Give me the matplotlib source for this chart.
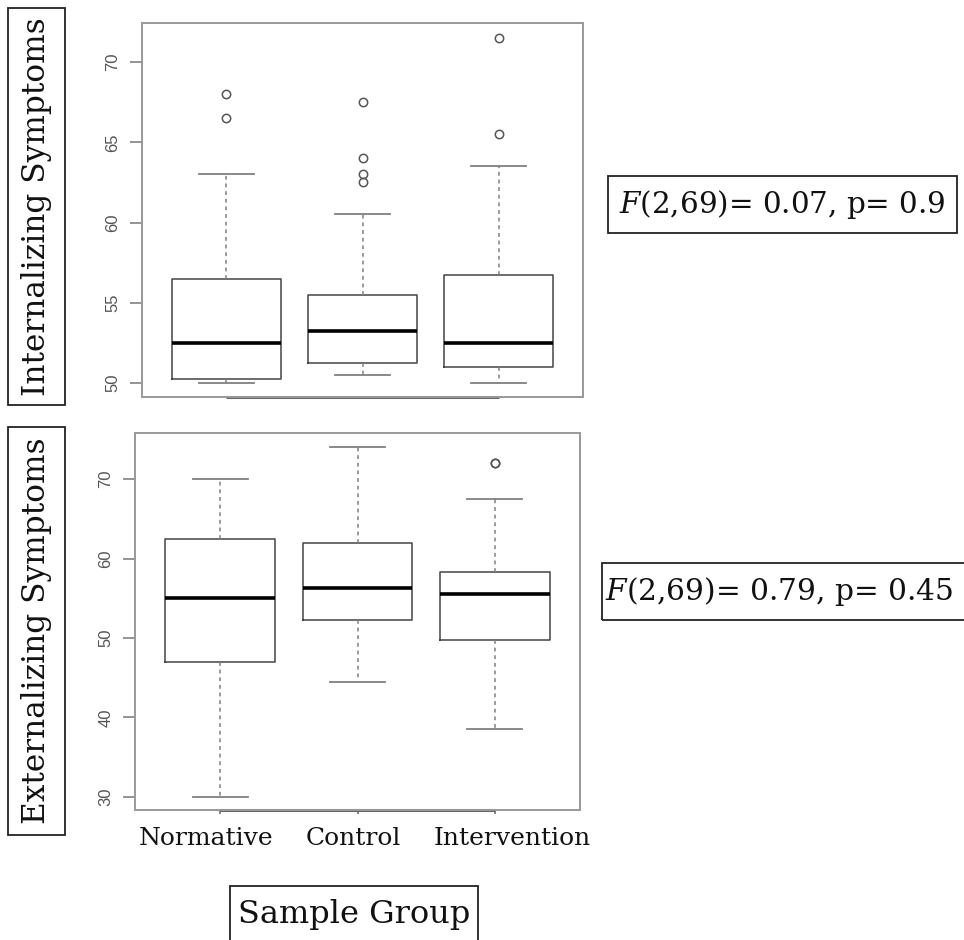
import matplotlib
matplotlib.use("Agg")
from matplotlib import pyplot as plt
from matplotlib.patches import Rectangle
from matplotlib.transforms import ScaledTranslation

groups = ["Normative", "Control", "Intervention"]

# internalizing symptoms: five-number summaries + outliers
int_whislo = [50.0, 50.5, 50.0]
int_q1 = [50.25, 51.25, 51.0]
int_med = [52.5, 53.25, 52.5]
int_q3 = [56.5, 55.5, 56.75]
int_whishi = [63.0, 60.5, 63.5]
int_fliers = [[68.0, 66.5], [67.5, 64.0, 63.0, 62.5], [71.5, 65.5]]

# externalizing symptoms
ext_whislo = [30.0, 44.5, 38.5]
ext_q1 = [47.0, 52.25, 49.75]
ext_med = [55.0, 56.25, 55.5]
ext_q3 = [62.5, 62.0, 58.25]
ext_whishi = [70.0, 74.0, 67.5]
ext_fliers = [[], [], [72.0, 72.0]]

int_yticks = [50, 55, 60, 65, 70]
ext_yticks = [30, 40, 50, 60, 70]

stat_int = r"$\mathit{F}$(2,69)= 0.07, p= 0.9"
stat_ext = r"$\mathit{F}$(2,69)= 0.79, p= 0.45"

W, H = 964, 940
plt.rcParams['mathtext.fontset'] = 'dejavuserif'
fig = plt.figure(figsize=(W / 100, H / 100), dpi=100)


def px_rect(x0, y0, x1, y1):
    # pixel box (top-left origin) -> figure fraction [l, b, w, h]
    return [x0 / W, 1 - y1 / H, (x1 - x0) / W, (y1 - y0) / H]


def make_stats(lo, q1, med, q3, hi, fl):
    return [dict(whislo=a, q1=b, med=c, q3=d, whishi=e, fliers=f, label=g)
            for a, b, c, d, e, f, g in zip(lo, q1, med, q3, hi, fl, groups)]


def draw_panel(ax, stats, ylim, yticks, show_xlabels):
    ax.bxp(stats, positions=[1, 2, 3], widths=0.8, showfliers=True,
           boxprops=dict(color="#444444", lw=1.1),
           medianprops=dict(color="black", lw=2.6),
           whiskerprops=dict(color="#808080", lw=1.1, ls=(0, (2.5, 2.5))),
           capprops=dict(color="#808080", lw=1.3),
           flierprops=dict(marker="o", markerfacecolor="none",
                           markeredgecolor="#555555", markersize=6, mew=1.1))
    ax.set_xlim(0.38, 3.62)
    ax.set_ylim(*ylim)
    for s in ax.spines.values():
        s.set_color("#999999")
        s.set_linewidth(1.4)
    ax.set_yticks(yticks)
    ax.set_yticklabels([str(t) for t in yticks], rotation=90, va="center",
                       fontsize=12, color="#555555", family="Liberation Sans")
    ax.tick_params(axis="y", length=8.5, color="#777777", width=1.1, pad=7)
    ax.set_xticks([1, 2, 3])
    if show_xlabels:
        ax.set_xticklabels(groups, fontsize=18, family="DejaVu Serif", color="#111111")
        ax.tick_params(axis="x", length=3, color="#666666", width=1.1, pad=9)
        # labels in the source sit slightly off their ticks
        for lab, dx in zip(ax.get_xticklabels(), [-14, -4, 17]):
            lab.set_transform(lab.get_transform() + ScaledTranslation(dx / 100, 0, fig.dpi_scale_trans))
    else:
        ax.set_xticklabels([])
        ax.tick_params(axis="x", length=0)
    # R style axis line along the bottom between the outer ticks
    ax.plot([1, 3], [ylim[0], ylim[0]], color="#666666", lw=2.2,
            clip_on=False, solid_capstyle="butt")


ax1 = fig.add_axes(px_rect(142, 23, 583, 397))
draw_panel(ax1, make_stats(int_whislo, int_q1, int_med, int_q3, int_whishi, int_fliers),
           (49.13, 72.43), int_yticks, False)

ax2 = fig.add_axes(px_rect(135, 433, 580, 810))
draw_panel(ax2, make_stats(ext_whislo, ext_q1, ext_med, ext_q3, ext_whishi, ext_fliers),
           (28.36, 75.8), ext_yticks, True)


def boxed_text(x0, y0, x1, y1, text, size, rotation=0, ha="center", tx=None, ty=None):
    r = Rectangle((x0 / W, 1 - y1 / H), (x1 - x0) / W, (y1 - y0) / H,
                  transform=fig.transFigure, fill=False, ec="#222222", lw=1.3)
    fig.add_artist(r)
    cx = (x0 + x1) / 2 if tx is None else tx
    cy = (y0 + y1) / 2 if ty is None else ty
    fig.text(cx / W, 1 - cy / H, text, ha=ha, va="center", rotation=rotation,
             fontsize=size, family="DejaVu Serif", color="#111111")


boxed_text(8, 8, 65, 405, "Internalizing Symptoms", 22.5, rotation=90, tx=37)
boxed_text(8, 427, 65, 835, "Externalizing Symptoms", 22.5, rotation=90, tx=37)
boxed_text(608, 176, 957, 233, stat_int, 21.2)
boxed_text(602, 563, 975, 620, stat_ext, 21.3, ha="left", tx=605)
boxed_text(230, 886, 478, 960, "Sample Group", 23, ty=914)

fig.savefig("out.png", dpi=100)
